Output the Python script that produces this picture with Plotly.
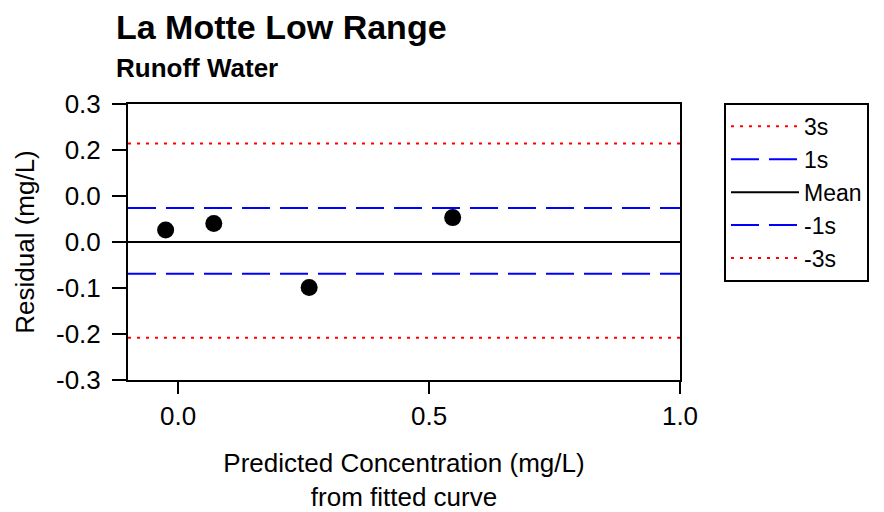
import plotly.graph_objects as go

# Data
pred_conc = [-0.025, 0.071, 0.261, 0.547]
residual = [0.026, 0.040, -0.099, 0.053]

line_names = ["3s", "1s", "Mean", "-1s", "-3s"]
line_values = [0.214, 0.074, 0.0, -0.069, -0.208]
line_colors = ["red", "blue", "black", "blue", "red"]
line_dashes = ["3px,6px", "28px,10px", "solid", "28px,10px", "3px,6px"]

x_range = [-0.1, 1.0]
y_range = [-0.3, 0.3]
x_tickvals = [0.0, 0.5, 1.0]
x_ticktext = ["0.0", "0.5", "1.0"]
y_tickvals = [0.3, 0.2, 0.1, 0.0, -0.1, -0.2, -0.3]
y_ticktext = ["0.3", "0.2", "0.0", "0.0", "-0.1", "-0.2", "-0.3"]

FONT = "Liberation Sans, Arial, sans-serif"

fig = go.Figure()
for name, val, col, dash in zip(line_names, line_values, line_colors, line_dashes):
    fig.add_trace(go.Scatter(
        x=x_range, y=[val, val], mode="lines", name=name,
        line=dict(color=col, width=2, dash=dash),
    ))

fig.add_trace(go.Scatter(
    x=pred_conc, y=residual, mode="markers", showlegend=False,
    marker=dict(color="black", size=17),
))

fig.update_layout(
    width=876, height=504,
    margin=dict(l=120, r=204, t=96, b=132),
    paper_bgcolor="white", plot_bgcolor="white",
    font=dict(family=FONT, size=22, color="black"),
    showlegend=True,
    legend=dict(
        x=1.0797, xanchor="left", y=1.004, yanchor="top",
        bordercolor="black", borderwidth=2, bgcolor="white",
        font=dict(size=23), itemwidth=68,
        entrywidth=115, entrywidthmode="pixels",
    ),
    annotations=[
        dict(text="<b>La Motte Low Range</b>", xref="paper", yref="paper",
             x=-0.025, y=1.0, xanchor="left", yanchor="bottom", yshift=56,
             showarrow=False, font=dict(size=34)),
        dict(text="<b>Runoff Water</b>", xref="paper", yref="paper",
             x=-0.025, y=1.0, xanchor="left", yanchor="bottom", yshift=19,
             showarrow=False, font=dict(size=26)),
    ],
)

fig.update_xaxes(
    range=x_range, tickvals=x_tickvals, ticktext=x_ticktext,
    showline=True, linecolor="black", linewidth=2, mirror=True,
    ticks="outside", ticklen=12, tickwidth=2, tickcolor="black",
    tickfont=dict(size=26),
    showgrid=False, zeroline=False, automargin=False,
    title=dict(text="Predicted Concentration (mg/L)<br>from fitted curve", standoff=28),
)
fig.update_yaxes(
    range=y_range, tickvals=y_tickvals, ticktext=y_ticktext,
    showline=True, linecolor="black", linewidth=2, mirror=True,
    ticks="outside", ticklen=14, tickwidth=2, tickcolor="black",
    tickfont=dict(size=26), ticklabelstandoff=6,
    showgrid=False, zeroline=False, automargin=False,
    title=dict(text="Residual (mg/L)", standoff=14),
)

fig.write_html("out.html")
